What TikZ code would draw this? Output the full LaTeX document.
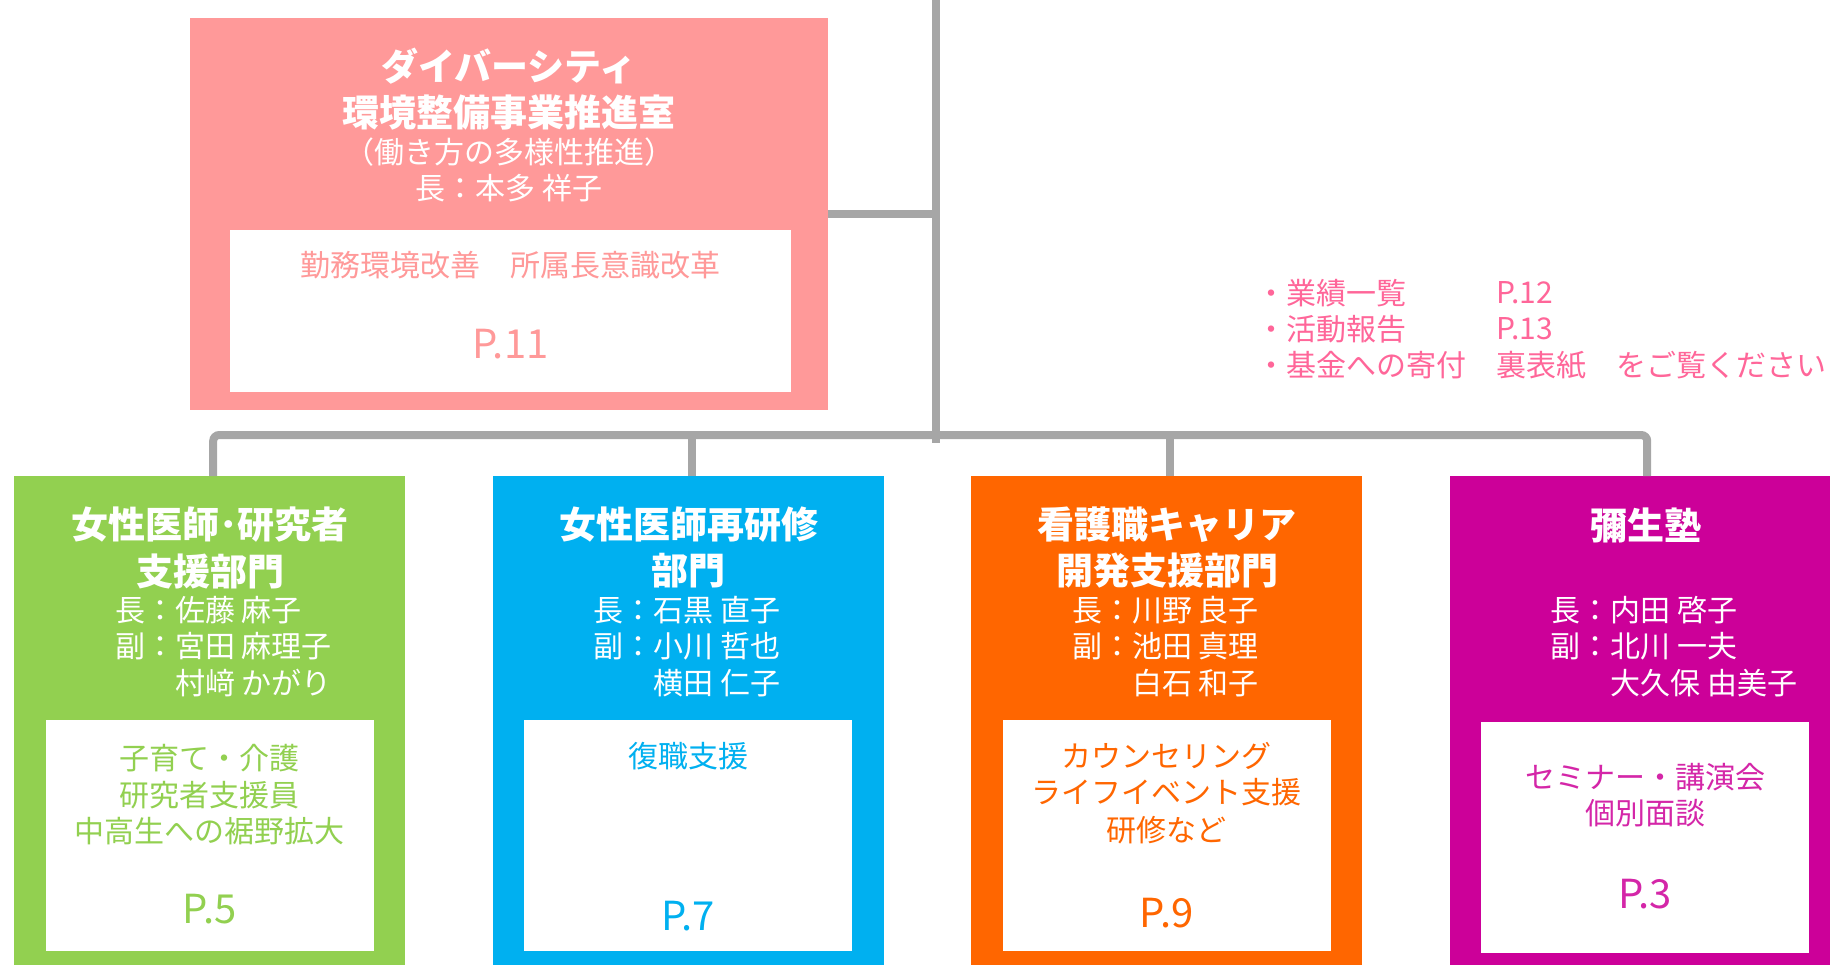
\documentclass[tikz,border=0pt]{standalone}
\usepackage{fontspec}
\setmainfont{Noto Sans CJK JP}
\definecolor{pinkbox}{HTML}{FF9999}
\definecolor{greenbox}{HTML}{92D050}
\definecolor{bluebox}{HTML}{00B0F0}
\definecolor{orangebox}{HTML}{FF6600}
\definecolor{magbox}{HTML}{CC0099}
\definecolor{linegray}{HTML}{A6A6A6}
\definecolor{notepink}{HTML}{FF6699}
\tikzset{
  conn/.style={draw=linegray, line width=8pt, rounded corners=6pt},
  deptbox/.style={fill=#1, draw=none, anchor=north west, minimum width=391pt, minimum height=520pt, inner sep=0},
  innerbox/.style={fill=white, draw=none, anchor=north west, minimum width=328pt, minimum height=231pt, inner sep=0},
  ttl/.style={text=white, font=\bfseries\fontsize{37}{44}\selectfont, inner sep=0},
  nm/.style={text=white, font=\fontsize{30}{36}\selectfont, inner sep=0, anchor=west},
  sub/.style={text=white, font=\fontsize{30}{36}\selectfont, inner sep=0},
  body/.style={text=#1, font=\fontsize{30}{36}\selectfont, inner sep=0},
  pg/.style={text=#1, font=\fontsize{40}{44}\selectfont, inner sep=0},
  note/.style={text=notepink, font=\fontsize{30}{36}\selectfont, inner sep=0, anchor=west},
}
\begin{document}
\begin{tikzpicture}[x=1pt,y=-1pt]
\useasboundingbox (0,0) rectangle (1830,964);
\clip (0,0) rectangle (1830,964);
% coordinates of the connector system
\coordinate (trunktop) at (936,-6);
\coordinate (trunkbot) at (936,443);
\coordinate (bus) at (936,435);
% top box
\node[fill=pinkbox, draw=none, anchor=north west, minimum width=637.5pt, minimum height=392.5pt, inner sep=0] (pink) at (190,17.5) {};
% department boxes
\node[deptbox=greenbox] (g) at (14,476) {};
\node[deptbox=bluebox] (b) at (492.5,476) {};
\node[deptbox=orangebox] (o) at (971,476) {};
\node[deptbox=magbox] (m) at (1449.5,476) {};
% connectors
\draw[conn] (trunktop) -- (trunkbot);
\draw[conn] (pink.east) -- (pink.east -| trunktop);
\draw[conn] ([xshift=3.5pt]g.north) -- ([xshift=3.5pt]g.north |- bus) -| ([xshift=2pt]m.north);
\draw[conn] ([xshift=3.5pt]b.north) -- ([xshift=3.5pt]b.north |- bus);
\draw[conn] ([xshift=3.5pt]o.north) -- ([xshift=3.5pt]o.north |- bus);
% inner white boxes
\node[fill=white, draw=none, anchor=north west, minimum width=561pt, minimum height=162pt, inner sep=0] (pinkin) at (230,230) {};
\node[innerbox] (gin) at (45.5,720) {};
\node[innerbox] (bin) at (524,720) {};
\node[innerbox] (oin) at (1002.5,720) {};
\node[innerbox] (min) at (1481,722) {};
% top box texts
\node[ttl] (pt1) at (509,66.5) {ダイバーシティ};
\node[ttl] (pt2) at (509,112) {環境整備事業推進室};
\node[sub] (pt3) at (509,152) {（働き方の多様性推進）};
\node[sub] (pt4) at (509,188) {長：本多 祥子};
\node[body=pinkbox] (pb1) at (510.5,265) {勤務環境改善　所属長意識改革};
\node[pg=pinkbox] (pp) at (510.5,344) {P.11};
% note
\node[note] (n1) at (1256,293) {・業績一覧};
\node[note] (n2) at (1256,329) {・活動報告};
\node[note] (n3) at (1256,365) {・基金への寄付};
\node[note] (n1p) at (1496,293) {P.12};
\node[note] (n2p) at (1496,329) {P.13};
\node[note] (n3p) at (1496,365) {裏表紙　をご覧ください};
% green
\node[ttl] (gt1) at (210,525) {女性医師･研究者};
\node[ttl] (gt2) at (210,571) {支援部門};
\node[nm] (gn1) at (115,610) {長：佐藤 麻子};
\node[nm] (gn2) at (115,646.5) {副：宮田 麻理子};
\node[nm] (gn3) at (175,683) {村﨑 かがり};
\node[body=greenbox] (gb1) at (209.5,758.6) {子育て・介護};
\node[body=greenbox] (gb2) at (209.5,795) {研究者支援員};
\node[body=greenbox] (gb3) at (209.5,831) {中高生への裾野拡大};
\node[pg=greenbox] (gp) at (209.5,909) {P.5};
% blue
\node[ttl] (bt1) at (688.5,525) {女性医師再研修};
\node[ttl] (bt2) at (688.5,571) {部門};
\node[nm] (bn1) at (593.5,610) {長：石黒 直子};
\node[nm] (bn2) at (593.5,646.5) {副：小川 哲也};
\node[nm] (bn3) at (653.5,683) {横田 仁子};
\node[body=bluebox] (bb1) at (688,756) {復職支援};
\node[pg=bluebox] (bp) at (688,916) {P.7};
% orange
\node[ttl] (ot1) at (1167,525) {看護職キャリア};
\node[ttl] (ot2) at (1167,571) {開発支援部門};
\node[nm] (on1) at (1072,610) {長：川野 良子};
\node[nm] (on2) at (1072,646.5) {副：池田 真理};
\node[nm] (on3) at (1132,683) {白石 和子};
\node[body=orangebox] (ob1) at (1166.5,756) {カウンセリング};
\node[body=orangebox] (ob2) at (1166.5,792.5) {ライフイベント支援};
\node[body=orangebox] (ob3) at (1166.5,830) {研修など};
\node[pg=orangebox] (op) at (1166.5,912.7) {P.9};
% magenta
\node[ttl] (mt1) at (1645.5,525) {彌生塾};
\node[nm] (mn1) at (1550.5,610) {長：内田 啓子};
\node[nm] (mn2) at (1550.5,646.5) {副：北川 一夫};
\node[nm] (mn3) at (1610.5,683) {大久保 由美子};
\node[body=magbox!85] (mb1) at (1645,777) {セミナー・講演会};
\node[body=magbox!85] (mb2) at (1645,813.5) {個別面談};
\node[pg=magbox!85] (mp) at (1645,894) {P.3};
\end{tikzpicture}
\end{document}
